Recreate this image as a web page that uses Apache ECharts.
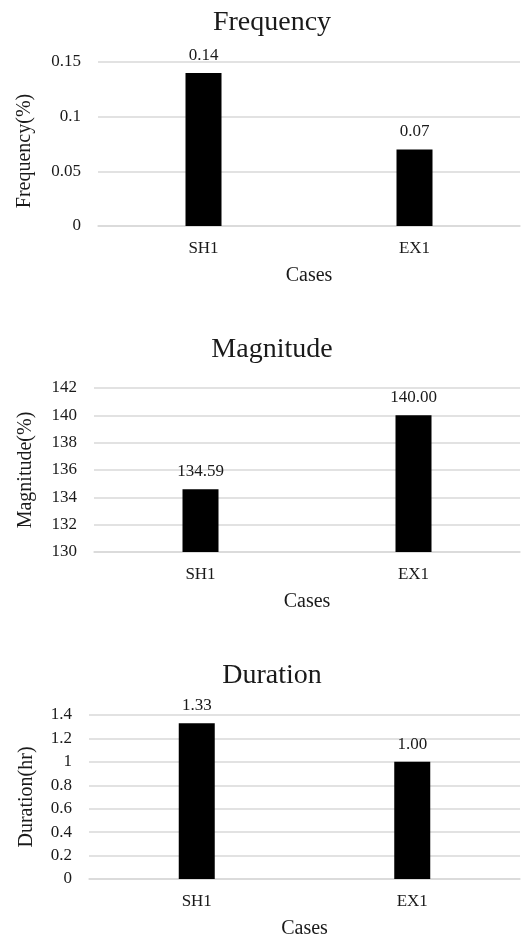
<!DOCTYPE html>
<html><head><meta charset="utf-8">
<script src="https://cdn.jsdelivr.net/npm/echarts@6/dist/echarts.min.js"></script>
<style>html,body{margin:0;padding:0;background:#fff}#c{width:525px;height:941px}</style>
</head><body><div id="c"></div>
<script>
const categories = ["SH1", "EX1"];
const frequencyValues = [0.14, 0.07];
const magnitudeValues = [134.59, 140.00];
const durationValues = [1.33, 1.00];
const chartTitles = ["Frequency", "Magnitude", "Duration"];
const yNames = ["Frequency(%)", "Magnitude(%)", "Duration(hr)"];
const xName = "Cases";

const FONT = '"Liberation Serif","Times New Roman",serif';
const TXT = '#1a1a1a';
const GRIDC = '#d9d9d9';

const panels = [
  {data: frequencyValues, min: 0, max: 0.15, interval: 0.05, top: 62, left: 98, nameGap: 63, titleTop: 4, namePad: [0, 14, 0, 0]},
  {data: magnitudeValues, min: 130, max: 142, interval: 2, top: 388, left: 94, nameGap: 58, titleTop: 331, namePad: [0, 0, 0, 0]},
  {data: durationValues, min: 0, max: 1.4, interval: 0.2, top: 715, left: 89, nameGap: 52, titleTop: 657, namePad: [0, 0, 0, 0]}
];

const option = {
  animation: false,
  backgroundColor: '#fff',
  title: panels.map((p, i) => ({
    text: chartTitles[i], left: 267, top: p.titleTop, textAlign: 'center',
    textStyle: {fontFamily: FONT, fontSize: 28, fontWeight: 'normal', color: TXT}
  })),
  grid: panels.map(p => ({left: p.left, right: 5, top: p.top, height: 164})),
  xAxis: panels.map((p, i) => ({
    type: 'category', gridIndex: i, data: categories,
    name: xName, nameLocation: 'middle', nameGap: 40,
    nameTextStyle: {fontFamily: FONT, fontSize: 20, color: TXT},
    axisLine: {show: true, lineStyle: {color: GRIDC, width: 1.5}},
    axisTick: {show: false},
    axisLabel: {fontFamily: FONT, fontSize: 17, color: TXT, margin: 14}
  })),
  yAxis: panels.map((p, i) => ({
    type: 'value', gridIndex: i, min: p.min, max: p.max, interval: p.interval,
    name: yNames[i], nameLocation: 'middle', nameGap: p.nameGap, nameRotate: 90,
    nameTextStyle: {fontFamily: FONT, fontSize: 20, color: TXT, padding: p.namePad},
    axisLine: {show: false}, axisTick: {show: false},
    axisLabel: {fontFamily: FONT, fontSize: 17, color: TXT, margin: 17},
    splitLine: {lineStyle: {color: GRIDC, width: 1.5}}
  })),
  series: panels.map((p, i) => ({
    type: 'bar', xAxisIndex: i, yAxisIndex: i, data: p.data, barWidth: 36,
    itemStyle: {color: '#000'},
    label: {show: true, position: 'top', distance: 9, fontFamily: FONT, fontSize: 17, color: TXT,
      formatter: d => d.value.toFixed(2)}
  }))
};
echarts.init(document.getElementById('c')).setOption(option);
</script></body></html>
